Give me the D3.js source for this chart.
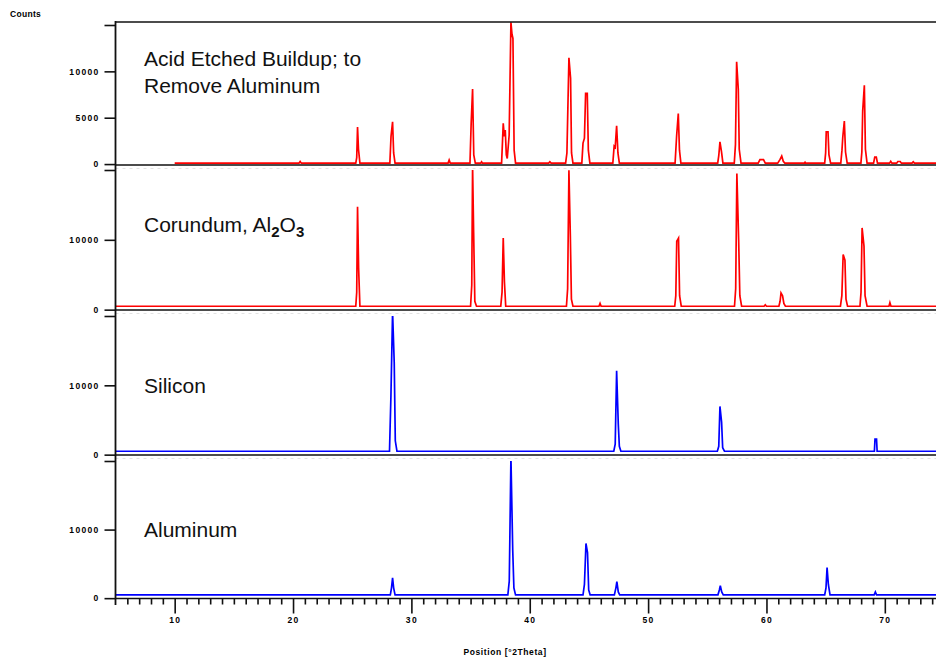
<!DOCTYPE html>
<html>
<head>
<meta charset="utf-8">
<script src="https://cdn.jsdelivr.net/npm/d3@7"></script>
<style>
  html, body { margin: 0; padding: 0; background: #fff; }
  svg { display: block; }
</style>
</head>
<body>
<svg id="chart" width="936" height="662"></svg>
<script>
// ---------------- DATA ----------------
const xTicksMajor = [10, 20, 30, 40, 50, 60, 70];
const xTickLabels = ["10", "20", "30", "40", "50", "60", "70"];
const xTitle = "Position [°2Theta]";
const yTitle = "Counts";

// series: [2theta, counts]
const acidEtched = [
  [10.0,100],
  [20.5,100],[20.6,280],[20.7,100],
  [25.3,100],[25.38,700],[25.45,4000],[25.53,1600],[25.65,100],
  [28.18,100],[28.28,3000],[28.41,4560],[28.5,1200],[28.62,100],
  [33.1,100],[33.19,430],[33.28,100],
  [34.95,100],[35.05,4390],[35.17,8090],[35.27,1000],[35.4,100],
  [35.85,100],[35.93,250],[36.0,100],
  [37.62,100],[37.7,2500],[37.76,4390],[37.85,3000],[37.93,3670],[38.02,1000],[38.1,600],
  [38.26,3130],[38.41,15300],[38.5,14000],[38.58,13550],[38.68,1500],[38.8,100],
  [41.6,100],[41.7,250],[41.8,100],
  [43.03,100],[43.14,1190],[43.31,11460],[43.45,9240],[43.53,1200],[43.65,100],
  [44.4,100],[44.5,2260],[44.62,2800],[44.72,7620],[44.86,7620],[44.95,1500],[45.08,100],
  [47.02,100],[47.13,1940],[47.22,1800],[47.34,4130],[47.45,1200],[47.57,100],
  [52.28,100],[52.41,3050],[52.55,5460],[52.65,1500],[52.77,100],
  [55.88,100],[55.97,900],[56.07,2400],[56.2,1330],[56.32,100],
  [57.28,100],[57.38,2100],[57.48,11030],[57.62,8050],[57.7,1600],[57.85,100],
  [59.3,100],[59.45,480],[59.75,480],[59.9,100],
  [60.95,100],[61.15,500],[61.29,860],[61.42,300],[61.55,100],
  [63.2,100],[63.26,200],[63.32,100],
  [64.92,100],[65.0,1200],[65.05,3480],[65.2,3480],[65.28,1000],[65.42,100],
  [66.28,100],[66.38,1500],[66.45,2940],[66.58,4630],[66.68,1300],[66.82,100],
  [67.98,100],[68.06,1300],[68.13,5710],[68.27,8500],[68.36,1600],[68.5,100],
  [69.05,100],[69.15,750],[69.28,750],[69.38,100],
  [70.4,100],[70.5,300],[70.6,100],
  [71.0,100],[71.1,280],[71.3,280],[71.4,100],
  [72.3,100],[72.4,250],[72.5,100],
  [75,100]
];

const corundum = [
  [5,490],
  [25.3,490],[25.38,2500],[25.45,14750],[25.54,6000],[25.65,490],
  [35.0,490],[35.1,3500],[35.17,20600],[35.26,11000],[35.36,1200],[35.5,490],
  [37.55,490],[37.66,2500],[37.76,10250],[37.86,4000],[37.97,490],
  [43.1,490],[43.2,3000],[43.31,19950],[43.43,10500],[43.52,1500],[43.65,490],
  [45.85,490],[45.94,900],[46.03,490],
  [52.25,490],[52.34,2000],[52.42,9800],[52.57,10250],[52.66,2000],[52.8,490],
  [57.3,490],[57.4,3000],[57.5,19500],[57.65,10000],[57.75,2000],[57.9,490],
  [59.8,490],[59.9,700],[60.0,490],
  [61.05,490],[61.15,1200],[61.23,2400],[61.36,2000],[61.47,900],[61.6,490],
  [66.25,490],[66.37,2000],[66.48,7900],[66.63,7100],[66.72,1500],[66.85,490],
  [67.9,490],[67.99,2500],[68.08,11700],[68.24,9100],[68.33,2000],[68.5,490],
  [70.35,490],[70.43,1000],[70.52,490],
  [75,490]
];

const silicon = [
  [5,490],
  [28.15,490],[28.27,8400],[28.41,20600],[28.55,13250],[28.64,2000],[28.78,490],
  [47.1,490],[47.22,1500],[47.34,12100],[47.48,4400],[47.57,1200],[47.7,490],
  [55.85,490],[55.97,1200],[56.07,6960],[56.21,4670],[56.3,1000],[56.45,490],
  [69.12,490],[69.17,2240],[69.3,2240],[69.35,490],
  [75,490]
];

const aluminum = [
  [5,485],
  [28.22,485],[28.32,1500],[28.41,2980],[28.5,1500],[28.62,485],
  [38.15,485],[38.27,2500],[38.41,20600],[38.56,7100],[38.66,1500],[38.8,485],
  [44.5,485],[44.62,2000],[44.75,7980],[44.88,6660],[44.98,1200],[45.1,485],
  [47.15,485],[47.28,1500],[47.36,2400],[47.48,900],[47.6,485],
  [55.9,485],[56.02,1200],[56.1,1800],[56.22,900],[56.35,485],
  [64.92,485],[65.03,1500],[65.12,4450],[65.23,2000],[65.37,485],
  [69.1,485],[69.2,900],[69.3,485],
  [75,485]
];

const panelLabels = [
  ["Acid Etched Buildup; to", "Remove Aluminum"],
  ["Corundum, Al", "2", "O", "3"],
  ["Silicon"],
  ["Aluminum"]
];
const panelYMax = [15000, 20000, 20000, 20000];
const panelYTicks = [[0, 5000, 10000], [0, 10000], [0, 10000], [0, 10000]];
const panelYTickLabels = [["0", "5000", "10000"], ["0", "10000"], ["0", "10000"], ["0", "10000"]];

// ---------------- LAYOUT ----------------
const svg = d3.select("#chart");
const left = 115.5, right = 944;
const x = d3.scaleLinear().domain([5, 75]).range([left, right]);

const panels = [
  { top: 25, bottom: 165, yMin: -100, data: acidEtched, color: "#ff0000" },
  { top: 170, bottom: 310, yMin: -50, data: corundum, color: "#ff0000" },
  { top: 316, bottom: 455, yMin: -50, data: silicon, color: "#0000ff" },
  { top: 461, bottom: 598.5, yMin: -50, data: aluminum, color: "#0000ff" }
];

const defs = svg.append("defs");
const tickFont = "Liberation Sans, Arial, sans-serif";

panels.forEach((p, i) => {
  const y = d3.scaleLinear().domain([p.yMin, panelYMax[i]]).range([p.bottom, p.top]);
  const clipTop = i === 0 ? 22 : p.top;
  defs.append("clipPath").attr("id", "clip" + i)
    .append("rect").attr("x", left).attr("y", clipTop)
    .attr("width", 936 - left).attr("height", p.bottom - clipTop);

  if (i < 3) {
    svg.append("line").attr("x1", left).attr("x2", 936)
      .attr("y1", p.bottom + 3.5).attr("y2", p.bottom + 3.5)
      .attr("stroke", "#e2e2e2").attr("stroke-width", 1).attr("stroke-dasharray", "3,4");
  }

  const line = d3.line().x(d => x(d[0])).y(d => y(d[1]));
  svg.append("path").datum(p.data)
    .attr("clip-path", "url(#clip" + i + ")")
    .attr("d", line)
    .attr("fill", "none").attr("stroke", p.color)
    .attr("stroke-width", 1.7).attr("stroke-linejoin", "miter");

  svg.append("line").attr("x1", left).attr("x2", 936)
    .attr("y1", p.bottom).attr("y2", p.bottom)
    .attr("stroke", "#111").attr("stroke-width", 1.6);

  const ticksAll = panelYTicks[i].concat([panelYMax[i]]);
  const yAxis = d3.axisLeft(y).tickValues(ticksAll).tickSize(11).tickPadding(5)
    .tickFormat(d => {
      const k = panelYTicks[i].indexOf(d);
      return k >= 0 ? panelYTickLabels[i][k] : "";
    });
  const g = svg.append("g").attr("transform", `translate(${left},0)`).call(yAxis);
  g.select(".domain").remove();
  g.selectAll(".tick line").attr("stroke", "#111").attr("stroke-width", 1.6);
  g.selectAll(".tick text").attr("font-family", tickFont).attr("font-size", 8.5)
    .attr("font-weight", "bold").attr("fill", "#000").attr("letter-spacing", 1.3);
});

svg.append("line").attr("x1", left).attr("x2", 936).attr("y1", 22).attr("y2", 22)
  .attr("stroke", "#111").attr("stroke-width", 1.6);

svg.append("line").attr("x1", left).attr("x2", left).attr("y1", 21).attr("y2", 605)
  .attr("stroke", "#111").attr("stroke-width", 1.8);

const xAxisMinor = d3.axisBottom(x).tickValues(d3.range(6, 75, 1).filter(v => v % 10 !== 0))
  .tickSize(6).tickFormat("");
const gm = svg.append("g").attr("transform", `translate(0,${panels[3].bottom})`).call(xAxisMinor);
gm.select(".domain").remove();
gm.selectAll(".tick line").attr("stroke", "#111").attr("stroke-width", 1.6);

const xAxisMajor = d3.axisBottom(x).tickValues(xTicksMajor).tickSize(15).tickPadding(3)
  .tickFormat((d, k) => xTickLabels[k]);
const gx = svg.append("g").attr("transform", `translate(0,${panels[3].bottom})`).call(xAxisMajor);
gx.select(".domain").remove();
gx.selectAll(".tick line").attr("stroke", "#111").attr("stroke-width", 1.6);
gx.selectAll(".tick text").attr("font-family", tickFont).attr("font-size", 8.5)
  .attr("font-weight", "bold").attr("fill", "#000").attr("letter-spacing", 1.3);

svg.append("text").attr("x", 505).attr("y", 655).attr("text-anchor", "middle")
  .attr("font-family", tickFont).attr("font-size", 8.5).attr("font-weight", "bold")
  .attr("letter-spacing", 0.6).text(xTitle);
svg.append("text").attr("x", 10).attr("y", 17)
  .attr("font-family", tickFont).attr("font-size", 8.5).attr("font-weight", "bold")
  .attr("letter-spacing", 0.3).text(yTitle);

const labFont = "Liberation Sans, Arial, sans-serif";
const labSize = 21;
const lab = (yy) => svg.append("text").attr("x", 144).attr("y", yy)
  .attr("font-family", labFont).attr("font-size", labSize).attr("fill", "#111");

lab(66).text(panelLabels[0][0]);
lab(93).text(panelLabels[0][1]);

const t2 = lab(232);
t2.append("tspan").text(panelLabels[1][0]);
t2.append("tspan").attr("dy", 5).attr("font-size", 15).attr("font-weight", "bold").text(panelLabels[1][1]);
t2.append("tspan").attr("dy", -5).text(panelLabels[1][2]);
t2.append("tspan").attr("dy", 5).attr("font-size", 15).attr("font-weight", "bold").text(panelLabels[1][3]);

lab(393).text(panelLabels[2][0]);
lab(537).text(panelLabels[3][0]);
</script>
</body>
</html>
